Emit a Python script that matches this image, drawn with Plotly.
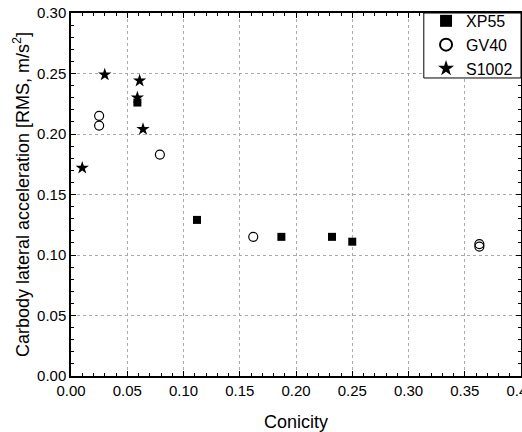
import plotly.graph_objects as go

xp55_x = [0.059, 0.112, 0.187, 0.232, 0.250]
xp55_y = [0.226, 0.129, 0.115, 0.115, 0.111]

gv40_x = [0.025, 0.025, 0.079, 0.162, 0.363, 0.363]
gv40_y = [0.215, 0.207, 0.183, 0.115, 0.109, 0.107]

s1002_x = [0.010, 0.030, 0.059, 0.061, 0.064]
s1002_y = [0.172, 0.249, 0.230, 0.244, 0.204]

FONT = "Arial, Liberation Sans, sans-serif"

fig = go.Figure()
fig.add_trace(go.Scatter(x=xp55_x, y=xp55_y, mode="markers", name="XP55",
                         marker=dict(symbol="square", size=8, color="black")))
fig.add_trace(go.Scatter(x=gv40_x, y=gv40_y, mode="markers", name="GV40",
                         marker=dict(symbol="circle-open", size=9, color="black",
                                     line=dict(width=1.2, color="black"))))
fig.add_trace(go.Scatter(x=s1002_x, y=s1002_y, mode="markers", name="S1002",
                         marker=dict(symbol="star", size=10, color="black")))

axis_common = dict(
    showline=True, linecolor="black", linewidth=1.5, mirror="ticks",
    ticks="inside", ticklen=5, tickcolor="black", tickwidth=1,
    showgrid=True, gridcolor="#aaaaaa", griddash="dot", gridwidth=1,
    zeroline=False, automargin=False,
    tickfont=dict(family=FONT, size=15, color="black"),
    minor=dict(ticks="inside", ticklen=3, tickcolor="black", showgrid=False),
    ticklabeloverflow="allow",
)

fig.update_xaxes(range=[0, 0.4], dtick=0.05, tick0=0, tickformat=".2f",
                 title=dict(text="Conicity", font=dict(family=FONT, size=18, color="black"), standoff=20),
                 **axis_common)
fig.update_yaxes(range=[0, 0.3], dtick=0.05, tick0=0, tickformat=".2f",
                 title=dict(text="Carbody lateral acceleration [RMS, m/s<sup>2</sup>]",
                            font=dict(family=FONT, size=18, color="black"), standoff=3),
                 **axis_common)

# legend frame (white filled box, top-right corner of the plot area)
fig.add_shape(type="rect", xref="paper", yref="paper",
              x0=0.784, x1=1.0, y0=0.821, y1=1.0,
              line=dict(color="black", width=1), fillcolor="white", layer="above")

fig.update_layout(
    width=522, height=432,
    margin=dict(l=71, r=1, t=13, b=56),
    plot_bgcolor="white", paper_bgcolor="white",
    font=dict(family=FONT, color="black"),
    legend=dict(x=0.789, y=1.025, xanchor="left", yanchor="top",
                borderwidth=0, bgcolor="rgba(0,0,0,0)",
                font=dict(family=FONT, size=16, color="black"),
                itemsizing="constant", tracegroupgap=0),
)

fig.write_html("out.html")
